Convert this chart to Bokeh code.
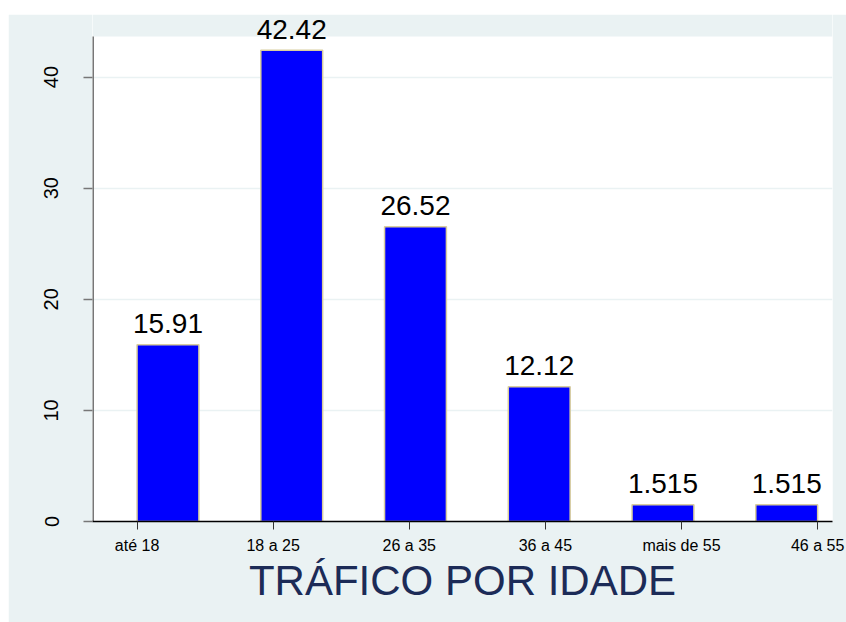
from bokeh.plotting import figure
from bokeh.models import ColumnDataSource, FixedTicker, Range1d, BoxAnnotation
from bokeh.embed import file_html
from bokeh.resources import INLINE
from bokeh.core.properties import value

categories = ["até 18", "18 a 25", "26 a 35", "36 a 45", "mais de 55", "46 a 55"]
values = [15.91, 42.42, 26.52, 12.12, 1.515, 1.515]
value_labels = ["15.91", "42.42", "26.52", "12.12", "1.515", "1.515"]
y_ticks = [0, 10, 20, 30, 40]
title_text = "TRÁFICO POR IDADE"

n = len(categories)
bar_w = 0.5
xs = list(range(n))
# Stata spreads the category labels from the first bar's left edge to the last bar's right edge
lo, hi = -bar_w / 2, (n - 1) + bar_w / 2
tick_pos = [lo + j * (hi - lo) / (n - 1) for j in range(n)]

# plot region: white area ends at PLOT_TOP, frame extends higher so labels are not clipped
X0, X1 = -0.61, 5.37
PLOT_TOP = 43.65
FRAME_TOP = 45.63

src = ColumnDataSource(dict(x=xs, top=values, lab=value_labels))

BG = "#eaf2f3"
FONT = "Liberation Sans"

p = figure(width=838, height=608, output_backend="svg", toolbar_location=None,
           x_range=Range1d(X0, X1), y_range=Range1d(0, FRAME_TOP),
           min_border_left=84, min_border_right=14, min_border_top=0, min_border_bottom=101)
p.margin = (14, 0, 0, 8)
p.background_fill_color = "white"
p.border_fill_color = BG
p.outline_line_color = None

# grey band above the plot region
p.add_layout(BoxAnnotation(bottom=PLOT_TOP, fill_color=BG, fill_alpha=1.0,
                           line_color=None, level="underlay"))

p.vbar(x="x", top="top", width=bar_w, bottom=0, source=src,
       fill_color="#0000ff", line_color="#d8cd9e", line_width=1.5)

p.text(x="x", y="top", text="lab", source=src, text_align="center",
       text_baseline="alphabetic", y_offset=-21, text_font=value(FONT),
       text_font_size="28px", text_color="black")

# y axis line limited to plot region
p.segment(x0=[X0], y0=[0], x1=[X0], y1=[PLOT_TOP], line_color="#777777", line_width=3)

# grid
p.xgrid.visible = False
p.ygrid.ticker = FixedTicker(ticks=y_ticks)
p.ygrid.grid_line_color = BG
p.ygrid.grid_line_width = 1.5

# y axis
p.yaxis.ticker = FixedTicker(ticks=y_ticks)
p.yaxis.major_label_orientation = "vertical"
p.yaxis.axis_line_color = None
p.yaxis.major_tick_line_color = "#777777"
p.yaxis.major_tick_line_width = 1.5
p.yaxis.major_tick_out = 9
p.yaxis.major_tick_in = 0
p.yaxis.minor_tick_line_color = None
p.yaxis.major_label_text_font = FONT
p.yaxis.major_label_text_font_size = "20px"
p.yaxis.major_label_text_color = "black"
p.yaxis.major_label_standoff = 25

# x axis
p.xaxis.ticker = FixedTicker(ticks=tick_pos)
p.xaxis.major_label_overrides = {t: c for t, c in zip(tick_pos, categories)}
p.xaxis.axis_line_color = "black"
p.xaxis.axis_line_width = 1.5
p.xaxis.major_tick_line_color = "#333333"
p.xaxis.major_tick_out = 8
p.xaxis.major_tick_in = 0
p.xaxis.minor_tick_line_color = None
p.xaxis.major_label_text_font = FONT
p.xaxis.major_label_text_font_size = "16px"
p.xaxis.major_label_text_color = "black"
p.xaxis.major_label_standoff = 7
p.xaxis.axis_label = title_text
p.xaxis.axis_label_text_font = FONT
p.xaxis.axis_label_text_font_style = "normal"
p.xaxis.axis_label_text_font_size = "42px"
p.xaxis.axis_label_text_color = "#1c2b57"
p.xaxis.axis_label_standoff = 0

open("out.html", "w").write(file_html(p, INLINE))
